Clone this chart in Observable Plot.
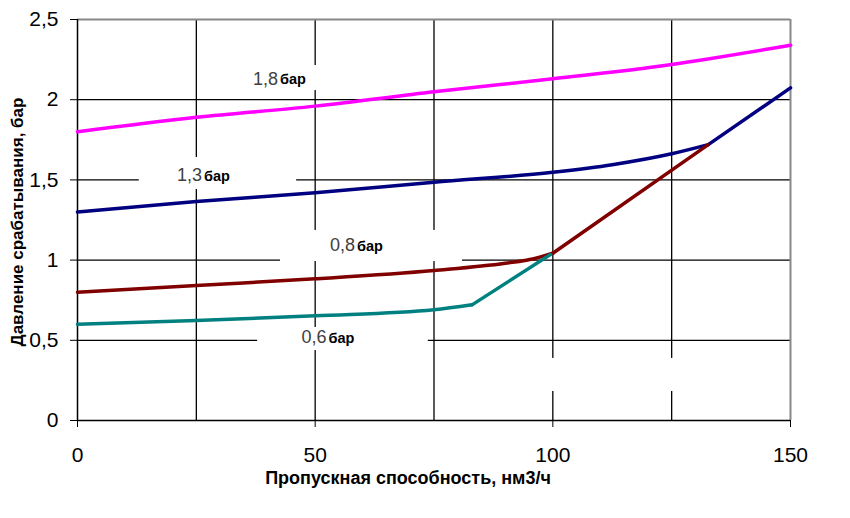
<!DOCTYPE html>
<html>
<head>
<meta charset="utf-8">
<script src="https://cdn.jsdelivr.net/npm/d3@7"></script>
<script src="https://cdn.jsdelivr.net/npm/@observablehq/plot@0.6"></script>
<style>
  html, body { margin: 0; padding: 0; background: #fff; }
  #chart { width: 850px; height: 518px; }
</style>
</head>
<body>
<div id="chart"></div>
<script>
// ---- Data ----
const pinkX = [0, 25, 50, 75, 100, 125, 150];
const pinkY = [1.80, 1.89, 1.96, 2.05, 2.13, 2.22, 2.34];

const navyX = [0, 25, 50, 75, 100, 112.5, 125, 132.7, 150];
const navyY = [1.30, 1.365, 1.42, 1.486, 1.548, 1.595, 1.663, 1.72, 2.074];

const redX = [0, 25, 50, 75, 90, 96, 100, 132.7];
const redY = [0.80, 0.842, 0.883, 0.935, 0.98, 1.008, 1.043, 1.72];

const tealX = [0, 25, 50, 75, 83, 99.5];
const tealY = [0.60, 0.623, 0.653, 0.69, 0.721, 1.035];

const seriesNames = ["1,8", "1,3", "0,8", "0,6"];
const seriesColors = ["#FF00FF", "#000080", "#800000", "#008080"];
// x where each curve stops bending and turns into a straight segment
const kinkX = [150, 132.7, 100, 83];

// label anchor positions (data units)
const labelX = [42.2, 26.2, 58.4, 52.4];
const labelY = [2.13, 1.527, 1.091, 0.519];
const unitText = "бар";

// white label boxes that hide the gridlines (data units)
const boxX1 = [31, 13.0, 42.7, 37.9, 82.7];
const boxX2 = [54.3, 46.1, 81.0, 73.8, 139.5];
const boxY1 = [2.057, 1.440, 0.991, 0.436, 0.181];
const boxY2 = [2.213, 1.640, 1.185, 0.580, 0.387];

const xTicks = [0, 50, 100, 150];
const yTicks = [0, 0.5, 1, 1.5, 2, 2.5];
const xGrid = [25, 50, 75, 100, 125];
const yGrid = [0.5, 1, 1.5, 2];

const xTitle = "Пропускная способность, нм3/ч";
const yTitle = "Давление срабатывания, бар";

// ---- Build tables ----
const allX = [pinkX, navyX, redX, tealX];
const allY = [pinkY, navyY, redY, tealY];
const smooth = [], straight = [];
allX.forEach((xs, s) => {
  xs.forEach((x, i) => {
    const row = {x, y: allY[s][i], name: seriesNames[s]};
    if (x <= kinkX[s]) smooth.push(row);
    if (x >= kinkX[s]) straight.push(row);
  });
});
const labels = seriesNames.map((n, i) => ({name: n, x: labelX[i], y: labelY[i]}));
const boxes = boxX1.map((x1, i) => ({x1, x2: boxX2[i], y1: boxY1[i], y2: boxY2[i]}));

const fmt = d => String(d).replace(".", ",");

const chart = Plot.plot({
  width: 850,
  height: 518,
  marginLeft: 77,
  marginRight: 60,
  marginTop: 19,
  marginBottom: 98,
  style: {fontFamily: "'Liberation Sans', Arial, sans-serif", color: "#000", background: "#fff"},
  x: {domain: [0, 150]},
  y: {domain: [0, 2.5]},
  color: {domain: seriesNames, range: seriesColors},
  marks: [
    Plot.ruleX(xGrid, {stroke: "#000", strokeWidth: 1.3}),
    Plot.ruleY(yGrid, {stroke: "#000", strokeWidth: 1.3}),
    Plot.ruleY([2.5], {stroke: "#888", strokeWidth: 2}),
    Plot.ruleX([150], {stroke: "#888", strokeWidth: 2}),
    Plot.rect(boxes, {x1: "x1", x2: "x2", y1: "y1", y2: "y2", fill: "#fff"}),
    Plot.ruleX([0], {stroke: "#000", strokeWidth: 1.5}),
    Plot.ruleY([0], {stroke: "#000", strokeWidth: 1.5}),
    Plot.axisX({ticks: xTicks, tickSize: 7, tickPadding: 20, fontSize: 21, tickFormat: fmt, label: null, stroke: "#000"}),
    Plot.axisY({ticks: yTicks, tickSize: 7, tickPadding: 12, fontSize: 21, tickFormat: fmt, label: null, stroke: "#000"}),
    Plot.line(smooth, {x: "x", y: "y", z: "name", stroke: "name", strokeWidth: 3.5, strokeLinejoin: "round", curve: "monotone-x"}),
    Plot.line(straight, {x: "x", y: "y", z: "name", stroke: "name", strokeWidth: 3.5, strokeLinejoin: "round", curve: "linear"}),
    Plot.text(labels, {x: "x", y: "y", text: "name", textAnchor: "end", fill: "#404040", fontSize: 18}),
    Plot.text(labels, {x: "x", y: "y", text: () => unitText, textAnchor: "start", dx: 2, dy: 1, fill: "#000", fontSize: 14.5, fontWeight: "bold"}),
    Plot.text([xTitle], {frameAnchor: "bottom", text: d => d, textAnchor: "middle", dy: 63, dx: -26, fontSize: 18, fontWeight: "bold", fill: "#000"}),
    Plot.text([yTitle], {frameAnchor: "left", text: d => d, textAnchor: "middle", rotate: -90, dx: -60, dy: 2, fontSize: 17, fontWeight: "bold", fill: "#000"})
  ]
});
document.getElementById("chart").appendChild(chart);
</script>
</body>
</html>
